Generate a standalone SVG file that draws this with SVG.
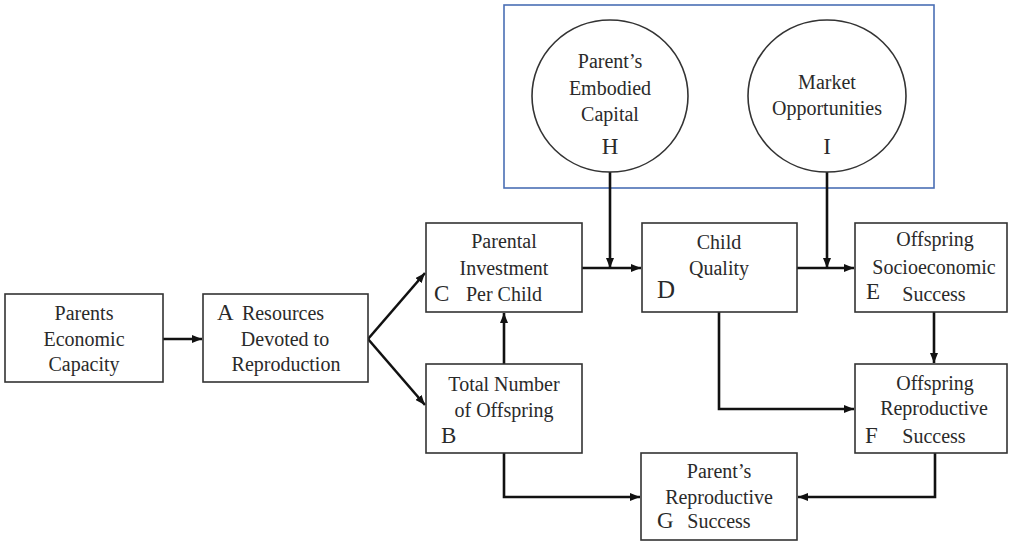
<svg xmlns="http://www.w3.org/2000/svg" width="1009" height="542" viewBox="0 0 1009 542">
<style>
.box{fill:#fff;stroke:#333;stroke-width:1.6}
.circ{fill:#fff;stroke:#333;stroke-width:1.6}
.t{font-family:'Liberation Serif',serif;font-size:20px;fill:#2a2a2a;text-anchor:middle}
.l{font-family:'Liberation Serif',serif;font-size:23px;fill:#2a2a2a}
.c{fill:none;stroke:#111;stroke-width:2.6}
</style>
<defs>
<marker id="ah" markerUnits="userSpaceOnUse" markerWidth="10" markerHeight="8" refX="10" refY="4" orient="auto">
<path d="M0,0 L10,4 L0,8 z" fill="#111"/>
</marker>
</defs>
<rect id="group-box" x="504" y="5" width="430" height="183" fill="none" stroke="#4a6fb5" stroke-width="1.6"/>
<g id="connectors">
<line class="c" x1="163" y1="339" x2="202" y2="339" marker-end="url(#ah)"/>
<line class="c" x1="368" y1="339" x2="425" y2="273" marker-end="url(#ah)"/>
<line class="c" x1="368" y1="339" x2="425" y2="405" marker-end="url(#ah)"/>
<line class="c" x1="582" y1="268" x2="641" y2="268" marker-end="url(#ah)"/>
<line class="c" x1="797" y1="268" x2="854" y2="268" marker-end="url(#ah)"/>
<line class="c" x1="610" y1="171" x2="610" y2="268" marker-end="url(#ah)"/>
<line class="c" x1="827" y1="171" x2="827" y2="268" marker-end="url(#ah)"/>
<line class="c" x1="504" y1="364" x2="504" y2="313" marker-end="url(#ah)"/>
<line class="c" x1="934" y1="312" x2="934" y2="363" marker-end="url(#ah)"/>
<polyline class="c" points="719,312 719,409 854,409" marker-end="url(#ah)"/>
<polyline class="c" points="504,453 504,497 640,497" marker-end="url(#ah)"/>
<polyline class="c" points="935,453 935,497 798,497" marker-end="url(#ah)"/>
</g>
<g id="node-capacity">
<rect class="box" x="5" y="294" width="158" height="88"/>
<text class="t" x="84" y="320">Parents</text>
<text class="t" x="84" y="346">Economic</text>
<text class="t" x="84" y="371">Capacity</text>
</g>
<g id="node-A">
<rect class="box" x="203" y="294" width="165" height="88"/>
<text class="l" x="217" y="320">A</text>
<text class="t" x="283" y="320">Resources</text>
<text class="t" x="285" y="346">Devoted to</text>
<text class="t" x="286" y="371">Reproduction</text>
</g>
<g id="node-C">
<rect class="box" x="426" y="223" width="156" height="89"/>
<text class="t" x="504" y="248">Parental</text>
<text class="t" x="504" y="275">Investment</text>
<text class="l" x="434" y="301">C</text>
<text class="t" x="504" y="301">Per Child</text>
</g>
<g id="node-D">
<rect class="box" x="642" y="223" width="155" height="89"/>
<text class="t" x="719" y="249">Child</text>
<text class="t" x="719" y="275">Quality</text>
<text class="l" x="657" y="298" style="font-size:25px">D</text>
</g>
<g id="node-E">
<rect class="box" x="855" y="223" width="152" height="89"/>
<text class="t" x="935" y="246">Offspring</text>
<text class="t" x="934" y="274">Socioeconomic</text>
<text class="l" x="866" y="299">E</text>
<text class="t" x="934" y="301">Success</text>
</g>
<g id="node-F">
<rect class="box" x="855" y="364" width="152" height="89"/>
<text class="t" x="935" y="390">Offspring</text>
<text class="t" x="934" y="415">Reproductive</text>
<text class="l" x="865" y="443">F</text>
<text class="t" x="934" y="443">Success</text>
</g>
<g id="node-B">
<rect class="box" x="426" y="364" width="156" height="89"/>
<text class="t" x="504" y="391">Total Number</text>
<text class="t" x="504" y="417">of Offspring</text>
<text class="l" x="441" y="443">B</text>
</g>
<g id="node-G">
<rect class="box" x="641" y="453" width="156" height="87"/>
<text class="t" x="719" y="478">Parent’s</text>
<text class="t" x="719" y="504">Reproductive</text>
<text class="l" x="657" y="528">G</text>
<text class="t" x="719" y="528">Success</text>
</g>
<g id="node-H">
<ellipse class="circ" cx="610" cy="96" rx="78" ry="76"/>
<text class="t" x="610" y="68">Parent’s</text>
<text class="t" x="610" y="95">Embodied</text>
<text class="t" x="610" y="121">Capital</text>
<text class="t" x="610" y="154" style="font-size:23px">H</text>
</g>
<g id="node-I">
<ellipse class="circ" cx="827" cy="96" rx="79" ry="76"/>
<text class="t" x="827" y="89">Market</text>
<text class="t" x="827" y="115">Opportunities</text>
<text class="t" x="827" y="154" style="font-size:23px">I</text>
</g>
</svg>
